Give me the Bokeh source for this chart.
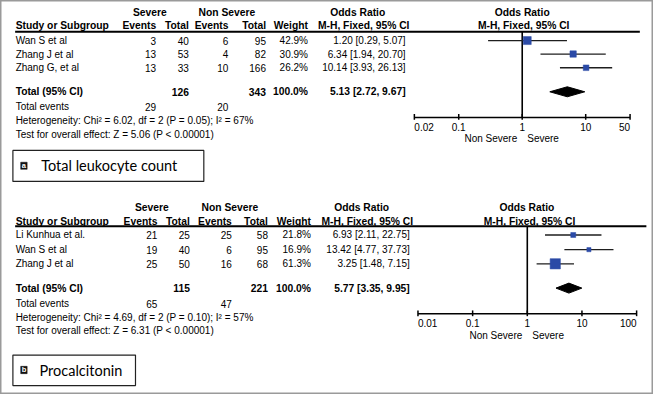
import math
from bokeh.plotting import figure
from bokeh.models import Range1d, LogScale, ColumnDataSource
from bokeh.core.properties import value
from bokeh.embed import file_html
from bokeh.resources import INLINE

# ---------------- data: panel a (Total leukocyte count) ----------------
studies_a = ["Wan S et al", "Zhang  J et al", "Zhang G, et al"]
sev_events_a = [3, 13, 13]
sev_total_a = [40, 53, 33]
non_events_a = [6, 4, 10]
non_total_a = [95, 82, 166]
weight_a = [42.9, 30.9, 26.2]
or_a = [1.20, 6.34, 10.14]
lo_a = [0.29, 1.94, 3.93]
hi_a = [5.07, 20.70, 26.13]
total_a = dict(sev_total=126, non_total=343, orv=5.13, lo=2.72, hi=9.67, sev_ev=29, non_ev=20)
het_a = "Heterogeneity: Chi\u00b2 = 6.02, df = 2 (P = 0.05); I\u00b2 = 67%"
test_a = "Test for overall effect: Z = 5.06 (P < 0.00001)"
ticks_a = [0.02, 0.1, 1, 10, 50]
tick_labels_a = ["0.02", "0.1", "1", "10", "50"]
letter_a, title_a = "a", "Total leukocyte count"

# ---------------- data: panel b (Procalcitonin) ----------------
studies_b = ["Li Kunhua et al.", "Wan S et al", "Zhang  J et al"]
sev_events_b = [21, 19, 25]
sev_total_b = [25, 40, 50]
non_events_b = [25, 6, 16]
non_total_b = [58, 95, 68]
weight_b = [21.8, 16.9, 61.3]
or_b = [6.93, 13.42, 3.25]
lo_b = [2.11, 4.77, 1.48]
hi_b = [22.75, 37.73, 7.15]
total_b = dict(sev_total=115, non_total=221, orv=5.77, lo=3.35, hi=9.95, sev_ev=65, non_ev=47)
het_b = "Heterogeneity: Chi\u00b2 = 4.69, df = 2 (P = 0.10); I\u00b2 = 57%"
test_b = "Test for overall effect: Z = 6.31 (P < 0.00001)"
ticks_b = [0.01, 0.1, 1, 10, 100]
tick_labels_b = ["0.01", "0.1", "1", "10", "100"]
letter_b, title_b = "b", "Procalcitonin"

# ---------------- layout ----------------
W, H = 669, 410          # reference coordinate frame
FW, FH = 653, 394        # figure size on screen
S = FW / W
FONT = "Liberation Sans"
BODY = 10.0
BOLD = 10.3
SQ_BLUE = "#2b4aa6"

p = figure(width=FW, height=FH, x_range=Range1d(0, W), y_range=Range1d(H, 0),
           output_backend="svg", toolbar_location=None, min_border=0,
           x_axis_location=None, y_axis_location=None)
p.xgrid.visible = False
p.ygrid.visible = False
p.outline_line_color = "#9a9a9a"
p.outline_line_width = 2
p.background_fill_color = "white"
p.border_fill_color = "white"


def log_range(v0, px0, v1, px1):
    d = (math.log10(v1) - math.log10(v0)) / (px1 - px0)
    return Range1d(10 ** (math.log10(v0) - px0 * d), 10 ** (math.log10(v1) + (W - px1) * d))


LAY = {
    "a": dict(axis_px=(424, 645), hy1=12.7, hy2=25.7, line_y=32.5, line_x=(15, 655),
              rows=[41.7, 55.7, 70.0], tot_y=95.0, ev_y=110.7, het_y=125.0, test_y=139.0,
              axis_y=121.7, tick_y=131.7, side_y=143.3, box=(12.7, 208.3, 156.0, 188.3),
              sq=(20.7, 27.3, 168.3, 175.7), title_x=41.7,
              c=dict(study=15.5, ev1=159.5, tot1=193, ev2=233.5, tot2=272, wt=315, ort=415,
                     or_hdr=366, mh_hdr=419, sev=153, non=232, f_or=534.5, f_mh=536)),
    "b": dict(axis_px=(427.7, 651.7), hy1=215.7, hy2=230.0, line_y=235.0, line_x=(15, 661.7),
              rows=[244.0, 259.3, 274.0], tot_y=299.3, ev_y=315.7, het_y=330.0, test_y=343.3,
              axis_y=326.0, tick_y=336.0, side_y=348.7, box=(12.7, 138.3, 369.0, 400.7),
              sq=(20.7, 27.3, 380.7, 388.3), title_x=40.0,
              c=dict(study=15.5, ev1=160.7, tot1=194, ev2=237, tot2=274, wt=318, ort=419.3,
                     or_hdr=370, mh_hdr=422.7, sev=155, non=235, f_or=539.3, f_mh=542)),
}

p.extra_x_ranges = {
    "a": log_range(ticks_a[0], LAY["a"]["axis_px"][0], ticks_a[-1], LAY["a"]["axis_px"][1]),
    "b": log_range(ticks_b[0], LAY["b"]["axis_px"][0], ticks_b[-1], LAY["b"]["axis_px"][1]),
}
p.extra_x_scales = {"a": LogScale(), "b": LogScale()}


def put(xs, ys, texts, align="left", bold=False, size=None, rng=None, color="black",
        font=FONT, x_offset=0):
    if size is None:
        size = BOLD if bold else BODY
    src = ColumnDataSource(dict(x=list(xs), y=list(ys), t=[str(s) for s in texts]))
    kw = dict(x="x", y="y", text="t", source=src, text_align=align, text_baseline="middle",
              text_font=value(font), text_font_size=f"{size}px",
              text_font_style="bold" if bold else "normal", text_color=color,
              x_offset=x_offset)
    if rng:
        kw["x_range_name"] = rng
    p.text(**kw)


def panel(key, studies, se, st, ne, nt, wt, orv, lo, hi, tot, het, test, ticks, tlabels,
          letter, title):
    L = LAY[key]
    c = L["c"]
    rows = L["rows"]
    n = len(studies)
    # headers
    put([c["sev"], c["non"]], [L["hy1"]] * 2, ["Severe", "Non Severe"], "center", True)
    put([c["or_hdr"]], [L["hy1"]], ["Odds Ratio"], "center", True)
    put([c["f_or"]], [L["hy1"]], ["Odds Ratio"], "center", True)
    put([c["study"]], [L["hy2"]], ["Study or Subgroup"], "left", True)
    put([c["ev1"], c["tot1"], c["ev2"], c["tot2"], c["wt"], c["mh_hdr"]], [L["hy2"]] * 6,
        ["Events", "Total", "Events", "Total", "Weight", "M-H, Fixed, 95% CI"], "right", True)
    put([c["f_mh"]], [L["hy2"]], ["M-H, Fixed, 95% CI"], "center", True)
    p.segment(x0=[L["line_x"][0]], x1=[L["line_x"][1]], y0=[L["line_y"]], y1=[L["line_y"]],
              line_color="black", line_width=2)
    # study rows
    put([c["study"]] * n, rows, studies, "left")
    put([c["ev1"]] * n, rows, se, "right")
    put([c["tot1"]] * n, rows, st, "right")
    put([c["ev2"]] * n, rows, ne, "right")
    put([c["tot2"]] * n, rows, nt, "right")
    put([c["wt"]] * n, rows, [f"{w:.1f}%" for w in wt], "right")
    put([c["ort"]] * n, rows, [f"{o:.2f} [{a:.2f}, {b:.2f}]" for o, a, b in zip(orv, lo, hi)], "right")
    # total row
    ty = L["tot_y"]
    put([c["study"]], [ty], ["Total (95% CI)"], "left", True)
    put([c["tot1"], c["tot2"], c["wt"]], [ty] * 3, [tot["sev_total"], tot["non_total"], "100.0%"], "right", True)
    put([c["ort"]], [ty], [f"{tot['orv']:.2f} [{tot['lo']:.2f}, {tot['hi']:.2f}]"], "right", True)
    put([c["study"]], [L["ev_y"]], ["Total events"], "left")
    put([c["ev1"], c["ev2"]], [L["ev_y"]] * 2, [tot["sev_ev"], tot["non_ev"]], "right")
    put([c["study"]], [L["het_y"]], [het], "left")
    put([c["study"]], [L["test_y"]], [test], "left")
    # forest
    p.segment(x0=[1], x1=[1], y0=[L["line_y"]], y1=[L["axis_y"]], line_color="black",
              line_width=1.6, x_range_name=key)
    p.segment(x0=lo, x1=hi, y0=rows, y1=rows, line_color="#1e1e1e", line_width=1.3,
              x_range_name=key)
    sizes = [0.59 * (w ** 0.7) * S for w in wt]
    p.scatter(x=orv, y=rows, size=sizes, marker="square", fill_color=SQ_BLUE,
              line_color=SQ_BLUE, line_width=0.5, x_range_name=key)
    dh = 5.2
    p.patch(x=[tot["lo"], tot["orv"], tot["hi"], tot["orv"]], y=[ty, ty - dh, ty, ty + dh],
            fill_color="black", line_color="black", line_width=1, x_range_name=key)
    # axis
    ay = L["axis_y"]
    p.segment(x0=[ticks[0]], x1=[ticks[-1]], y0=[ay], y1=[ay], line_color="black",
              line_width=1.5, x_range_name=key)
    p.segment(x0=ticks, x1=ticks, y0=[ay - 3.5] * len(ticks), y1=[ay + 2.5] * len(ticks),
              line_color="black", line_width=1.5, x_range_name=key)
    put([ticks[0]], [L["tick_y"]], [tlabels[0]], "left", rng=key)
    put(ticks[1:-1], [L["tick_y"]] * (len(ticks) - 2), tlabels[1:-1], "center", rng=key)
    put([ticks[-1]], [L["tick_y"]], [tlabels[-1]], "right", rng=key)
    put([1], [L["side_y"]], ["Non Severe"], "right", rng=key, x_offset=-5)
    put([1], [L["side_y"]], ["Severe"], "left", rng=key, x_offset=5)
    # label box
    bl, br, bt, bb = L["box"]
    p.quad(left=[bl], right=[br], top=[bt], bottom=[bb], fill_color="white",
           line_color="#222222", line_width=1.2)
    sl, sr, st_, sb = L["sq"]
    p.quad(left=[sl], right=[sr], top=[st_], bottom=[sb], fill_color="#111111",
           line_color="#111111", line_width=0.5)
    put([(sl + sr) / 2], [(st_ + sb) / 2], [letter], "center", True, size=7.5, color="white")
    put([L["title_x"]], [(bt + bb) / 2], [title], "left", size=14.5, font="Lato")


panel("a", studies_a, sev_events_a, sev_total_a, non_events_a, non_total_a, weight_a,
      or_a, lo_a, hi_a, total_a, het_a, test_a, ticks_a, tick_labels_a, letter_a, title_a)
panel("b", studies_b, sev_events_b, sev_total_b, non_events_b, non_total_b, weight_b,
      or_b, lo_b, hi_b, total_b, het_b, test_b, ticks_b, tick_labels_b, letter_b, title_b)

open("out.html", "w").write(file_html(p, INLINE))
